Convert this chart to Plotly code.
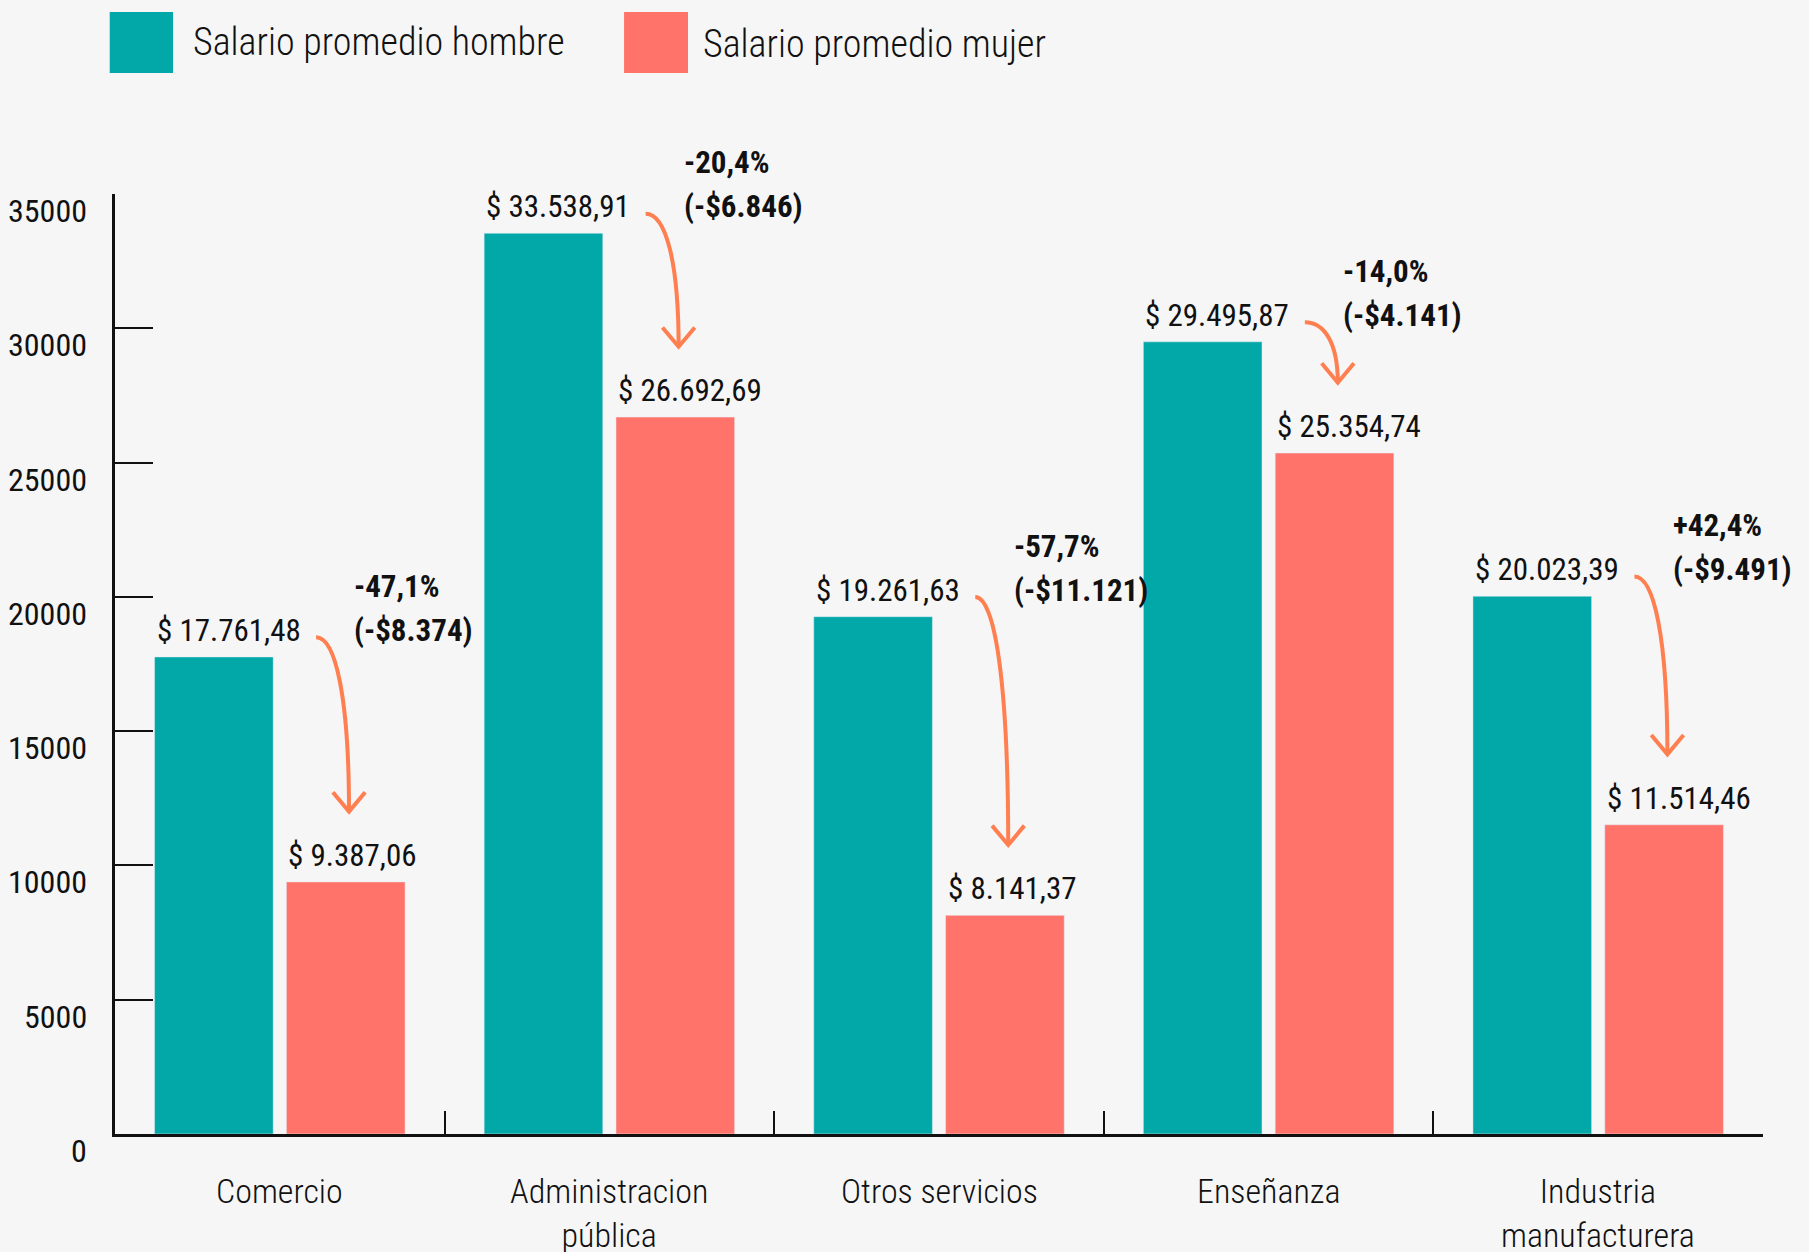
import plotly.graph_objects as go

categories = ["Comercio", "Administracion<br>pública", "Otros servicios", "Enseñanza", "Industria<br>manufacturera"]
salario_hombre = [17761.48, 33538.91, 19261.63, 29495.87, 20023.39]
salario_mujer = [9387.06, 26692.69, 8141.37, 25354.74, 11514.46]
label_hombre = ["$ 17.761,48", "$ 33.538,91", "$ 19.261,63", "$ 29.495,87", "$ 20.023,39"]
label_mujer = ["$ 9.387,06", "$ 26.692,69", "$ 8.141,37", "$ 25.354,74", "$ 11.514,46"]
brecha_pct = ["-47,1%", "-20,4%", "-57,7%", "-14,0%", "+42,4%"]
brecha_abs = ["(-$8.374)", "(-$6.846)", "(-$11.121)", "(-$4.141)", "(-$9.491)"]
y_ticks = [0, 5000, 10000, 15000, 20000, 25000, 30000, 35000]
series_names = ["Salario promedio hombre", "Salario promedio mujer"]

C_H = "#02A7A7"
C_M = "#FF736A"
C_ARROW = "#FF7F50"
BG = "#F6F6F6"
INK = "#111111"
COND = "Roboto Condensed, DejaVu Sans Condensed, sans-serif"

x_idx = list(range(len(categories)))

fig = go.Figure()
fig.add_trace(go.Bar(x=x_idx, y=salario_hombre, name=series_names[0], marker_color=C_H,
                     showlegend=False, hoverinfo="y"))
fig.add_trace(go.Bar(x=x_idx, y=salario_mujer, name=series_names[1], marker_color=C_M,
                     showlegend=False, hoverinfo="y"))

annotations = []
shapes = []

# y tick labels (sit slightly below their tick, as in the reference)
for v in y_ticks:
    annotations.append(dict(x=0, xref="paper", y=v, yref="y", text=str(v), showarrow=False,
                            xanchor="right", yanchor="middle", xshift=-26, yshift=-17,
                            font=dict(family=COND, size=32, color=INK)))

# category labels
for i, c in enumerate(categories):
    annotations.append(dict(x=i, xref="x", y=0, yref="y", text=c, showarrow=False,
                            xanchor="center", yanchor="top", yshift=-35,
                            font=dict(family=COND, size=34, color=INK, weight=300)))

GROUP = 0.4   # half group width (bargap 0.2)
PAD = 0.02    # bargroupgap padding

for i in x_idx:
    h = salario_hombre[i]
    m = salario_mujer[i]
    annotations.append(dict(x=i - GROUP + PAD, xref="x", y=h, yref="y", text=label_hombre[i],
                            showarrow=False, xanchor="left", yanchor="bottom", yshift=6,
                            font=dict(family=COND, size=31, color=INK)))
    annotations.append(dict(x=i + PAD, xref="x", y=m, yref="y", text=label_mujer[i],
                            showarrow=False, xanchor="left", yanchor="bottom", yshift=6,
                            font=dict(family=COND, size=31, color=INK)))
    # gap annotation: two lines, second line level with the men's label
    annotations.append(dict(x=i + 0.22, xref="x", y=h, yref="y", text="<b>" + brecha_abs[i] + "</b>",
                            showarrow=False, xanchor="left", yanchor="bottom", yshift=6,
                            font=dict(family=COND, size=31, color=INK)))
    annotations.append(dict(x=i + 0.22, xref="x", y=h, yref="y", text="<b>" + brecha_pct[i] + "</b>",
                            showarrow=False, xanchor="left", yanchor="bottom", yshift=50,
                            font=dict(family=COND, size=31, color=INK)))
    # curved arrow from the men's label down to the women's label
    x0, y0 = i + 0.11, h + 730
    x3, y3 = i + 0.21, m + 2620
    dx, dy = x3 - x0, y3 - y0
    path = f"M {x0},{y0} C {x0 + 0.6 * dx},{y0} {x3},{y0 + 0.35 * dy} {x3},{y3}"
    shapes.append(dict(type="path", path=path, xref="x", yref="y",
                       line=dict(color=C_ARROW, width=4)))
    ax, ay = 0.049, 720
    head = f"M {x3 - ax},{y3 + ay} L {x3},{y3} L {x3 + ax},{y3 + ay}"
    shapes.append(dict(type="path", path=head, xref="x", yref="y",
                       line=dict(color=C_ARROW, width=4)))

# manual legend (large swatches)
leg = [(-0.0032, 0.0352, 0.046, series_names[0], C_H, 1.1617),
       (0.3089, 0.3477, 0.3556, series_names[1], C_M, 1.1596)]
for xa, xb, xt, name, col, yt in leg:
    shapes.append(dict(type="rect", xref="paper", yref="paper", x0=xa, x1=xb, y0=1.1287, y1=1.1936,
                       fillcolor=col, line=dict(width=0)))
    annotations.append(dict(x=xt, xref="paper", y=yt, yref="paper", text=name, showarrow=False,
                            xanchor="left", yanchor="middle",
                            font=dict(family=COND, size=38, color=INK, weight=300)))

fig.update_layout(
    width=1809, height=1252,
    margin=dict(l=115, r=46, t=194, b=118),
    paper_bgcolor=BG, plot_bgcolor=BG,
    barmode="group", bargap=0.2, bargroupgap=0.1,
    annotations=annotations, shapes=shapes,
    showlegend=False,
)
fig.update_xaxes(range=[-0.5, 4.5], tickvals=[-0.5, 0.5, 1.5, 2.5, 3.5, 4.5],
                 ticktext=[""] * 6, ticks="inside", ticklen=23, tickwidth=2, tickcolor=INK,
                 showline=True, linewidth=3, linecolor=INK, showgrid=False, zeroline=False,
                 fixedrange=True)
fig.update_yaxes(range=[0, 35000], tickvals=y_ticks, ticktext=[""] * len(y_ticks),
                 ticks="inside", ticklen=38, tickwidth=2, tickcolor=INK,
                 showline=True, linewidth=3, linecolor=INK, showgrid=False, zeroline=False,
                 fixedrange=True)

fig.write_html("out.html", config={"displayModeBar": False},
               post_script="document.body.style.margin='0';document.body.style.background='#F6F6F6';")
